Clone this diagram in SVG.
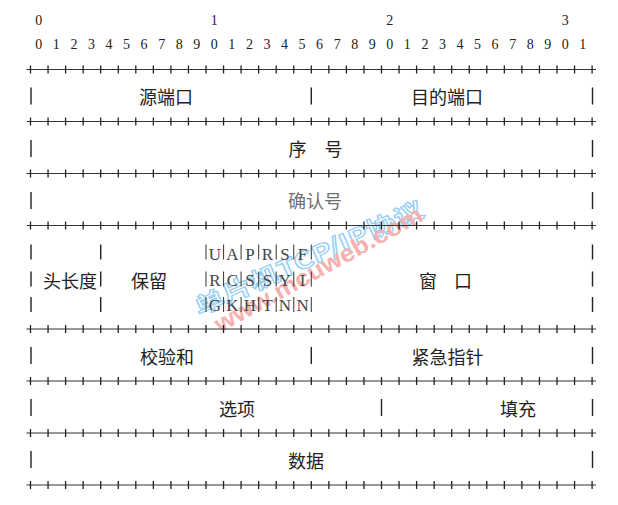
<svg xmlns="http://www.w3.org/2000/svg" xmlns:xlink="http://www.w3.org/1999/xlink" width="618" height="505" viewBox="0 0 618 505">
<style>
.num{font-family:"Liberation Serif","DejaVu Serif",serif;font-size:14px;fill:#222;text-anchor:middle}
.cn{font-family:"Noto Sans CJK SC","Noto Sans",sans-serif;font-size:18px;fill:#222;text-anchor:middle;dominant-baseline:central}
.flag{font-family:"Liberation Serif","DejaVu Serif",serif;font-size:17px;fill:#444;text-anchor:middle}
.bar{stroke:#222;stroke-width:1.4;fill:none}
.hl{stroke:#333;stroke-width:1.2;fill:none}
.tk{stroke:#222;stroke-width:1.3;fill:none}
.wmb{font-family:"Noto Sans CJK SC",sans-serif;font-weight:bold;font-size:23px;fill:#f5fbff;stroke:#92cdf5;stroke-width:1.1}
.wmr{font-family:"Liberation Sans","DejaVu Sans",sans-serif;font-weight:bold;font-size:24px;fill:#f7b0b0}
</style>
<defs>
<g id="plusrow">
<path class="hl" d="M26.5 0H596"/>
<path class="tk" d="M30.5 -4v8M48.05 -4v8M65.6 -4v8M83.15 -4v8M100.7 -4v8M118.25 -4v8M135.8 -4v8M153.35 -4v8M170.9 -4v8M188.45 -4v8M206 -4v8M223.55 -4v8M241.1 -4v8M258.65 -4v8M276.2 -4v8M293.75 -4v8M311.3 -4v8M328.85 -4v8M346.4 -4v8M363.95 -4v8M381.5 -4v8M399.05 -4v8M416.6 -4v8M434.15 -4v8M451.7 -4v8M469.25 -4v8M486.8 -4v8M504.35 -4v8M521.9 -4v8M539.45 -4v8M557 -4v8M574.55 -4v8M592.1 -4v8"/>
</g>
</defs>
<rect width="618" height="505" fill="#fff"/>

<g id="watermark">
<text class="wmb" x="199" y="316" transform="rotate(-24 199 316)" textLength="248" lengthAdjust="spacingAndGlyphs">单片机TCP/IP协议</text>
<text class="wmr" x="220" y="333" transform="rotate(-29 220 333)" textLength="234" lengthAdjust="spacingAndGlyphs">www.mcuweb.com</text>
</g>

<g id="ruler">
<text class="num" y="24.5" x="38.8 214.3 389.8 565.3">0123</text>
<text class="num" y="48.8" x="38.8 56.35 73.9 91.45 109 126.55 144.1 161.65 179.2 196.75 214.3 231.85 249.4 266.95 284.5 302.05 319.6 337.15 354.7 372.25 389.8 407.35 424.9 442.45 460 477.55 495.1 512.65 530.2 547.75 565.3 582.85">01234567890123456789012345678901</text>
</g>

<g id="connectors">
<use xlink:href="#plusrow" y="69.5"/>
<use xlink:href="#plusrow" y="121.5"/>
<use xlink:href="#plusrow" y="173.5"/>
<use xlink:href="#plusrow" y="225.5"/>
<use xlink:href="#plusrow" y="329"/>
<use xlink:href="#plusrow" y="381"/>
<use xlink:href="#plusrow" y="433"/>
<use xlink:href="#plusrow" y="485"/>
</g>

<g id="row1">
<path class="bar" d="M31 87.5v17M311.3 87.5v17M592.5 87.5v17"/>
<g id="src-port"><text class="cn" x="166" y="96">源端口</text></g>
<g id="dst-port"><text class="cn" x="447" y="96">目的端口</text></g>
</g>

<g id="seq">
<path class="bar" d="M31 140v17M592.5 140v17"/>
<text class="cn" x="297.5 315.5 333.5" y="148" style="white-space:pre">序 号</text>
</g>

<g id="ack">
<path class="bar" d="M31 192v17M592.5 192v17"/>
<text class="cn" x="315" y="200" style="fill:#707070">确认号</text>
</g>

<g id="row4">
<path class="bar" d="M31 244.5v15M31 271.5v15M31 297v15M100.7 244.5v15M100.7 271.5v15M100.7 297v15M592.5 244.5v15M592.5 271.5v15M592.5 297v15"/>
<g id="hlen"><text class="cn" x="70" y="280">头长度</text></g>
<g id="reserved"><text class="cn" x="149" y="280">保留</text></g>
<g id="flags">
<path class="bar" d="M206 244.5v15M223.55 244.5v15M241.1 244.5v15M258.65 244.5v15M276.2 244.5v15M293.75 244.5v15M311.3 244.5v15M206 271.5v15M223.55 271.5v15M241.1 271.5v15M258.65 271.5v15M276.2 271.5v15M293.75 271.5v15M311.3 271.5v15M206 297v15M223.55 297v15M241.1 297v15M258.65 297v15M276.2 297v15M293.75 297v15M311.3 297v15" style="stroke-width:1.1;stroke:#444"/>
<text class="flag" y="259.5" x="214.8 232.35 249.9 267.45 285 302.55">UAPRSF</text>
<text class="flag" y="285.8" x="214.8 232.35 249.9 267.45 285 302.55">RCSSYI</text>
<text class="flag" y="310.5" x="214.8 232.35 249.9 267.45 285 302.55">GKHTNN</text>
</g>
<g id="window"><text class="cn" x="428 445.5 463" y="280" style="white-space:pre">窗 口</text></g>
</g>

<g id="row5">
<path class="bar" d="M31 347v17M311.3 347v17M592.5 347v17"/>
<g id="checksum"><text class="cn" x="167" y="355.5">校验和</text></g>
<g id="urgent"><text class="cn" x="447.5" y="355.5">紧急指针</text></g>
</g>

<g id="row6">
<path class="bar" d="M31 399v17M381.5 399v17M592.5 399v17"/>
<g id="options"><text class="cn" x="237" y="407.5">选项</text></g>
<g id="padding"><text class="cn" x="518" y="407.5">填充</text></g>
</g>

<g id="data">
<path class="bar" d="M31 451v17M592.5 451v17"/>
<text class="cn" x="306" y="459.5">数据</text>
</g>
</svg>
